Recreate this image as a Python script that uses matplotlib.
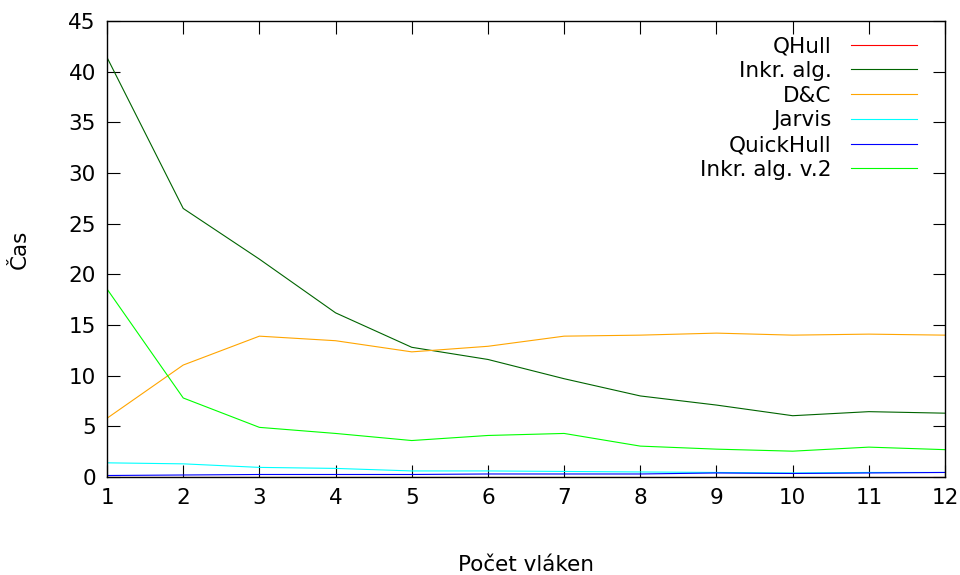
import numpy as np
import matplotlib
matplotlib.use("Agg")
import matplotlib.pyplot as plt

# thread counts
threads = np.arange(1, 13)

# run times per algorithm
qhull = [0.05, 0.05, 0.05, 0.05, 0.05, 0.05, 0.05, 0.05, 0.05, 0.05, 0.05, 0.05]
inkr = [41.4, 26.5, 21.5, 16.2, 12.8, 11.6, 9.7, 8.0, 7.1, 6.05, 6.45, 6.3]
dac = [5.8, 11.05, 13.9, 13.45, 12.35, 12.9, 13.9, 14.0, 14.2, 14.0, 14.1, 14.0]
jarvis = [1.4, 1.3, 0.95, 0.85, 0.6, 0.6, 0.55, 0.5, 0.45, 0.4, 0.45, 0.45]
quickhull = [0.15, 0.2, 0.25, 0.25, 0.25, 0.3, 0.3, 0.3, 0.4, 0.35, 0.4, 0.45]
inkr2 = [18.55, 7.8, 4.9, 4.3, 3.6, 4.1, 4.3, 3.05, 2.75, 2.55, 2.95, 2.7]

labels = ["QHull", "Inkr. alg.", "D&C", "Jarvis", "QuickHull", "Inkr. alg. v.2"]
colors = ["#ff0000", "#006400", "#ffa500", "#00ffff", "#0000ff", "#00ff00"]
series = [qhull, inkr, dac, jarvis, quickhull, inkr2]

plt.rcParams["font.family"] = "DejaVu Sans"
plt.rcParams["font.size"] = 15.5

fig = plt.figure(figsize=(9.6, 5.75), dpi=100)
ax = fig.add_axes([0.1115, 0.1704, 0.8729, 0.7931])

for vals, lab, col in zip(series, labels, colors):
    ax.plot(threads, vals, color=col, lw=0.8, label=lab)

ax.set_xlim(1, 12)
ax.set_ylim(0, 45)
ax.set_xticks(threads)
ax.set_yticks(np.arange(0, 46, 5))
ax.tick_params(direction="in", length=9, width=0.8, top=True, right=True, pad=8)
for s in ax.spines.values():
    s.set_linewidth(1.0)

ax.set_ylabel("Čas", labelpad=28)
fig.text(0.548, 0.017, "Počet vláken", ha="center", va="center", fontsize=15.5)

leg = ax.legend(loc="upper right", frameon=False, markerfirst=False,
                handlelength=3.07, handletextpad=0.9, labelspacing=0.22,
                bbox_to_anchor=(0.982, 0.995), borderaxespad=0.2)
for t in leg.get_texts():
    t.set_ha("right")

fig.savefig("out.png", dpi=100)
